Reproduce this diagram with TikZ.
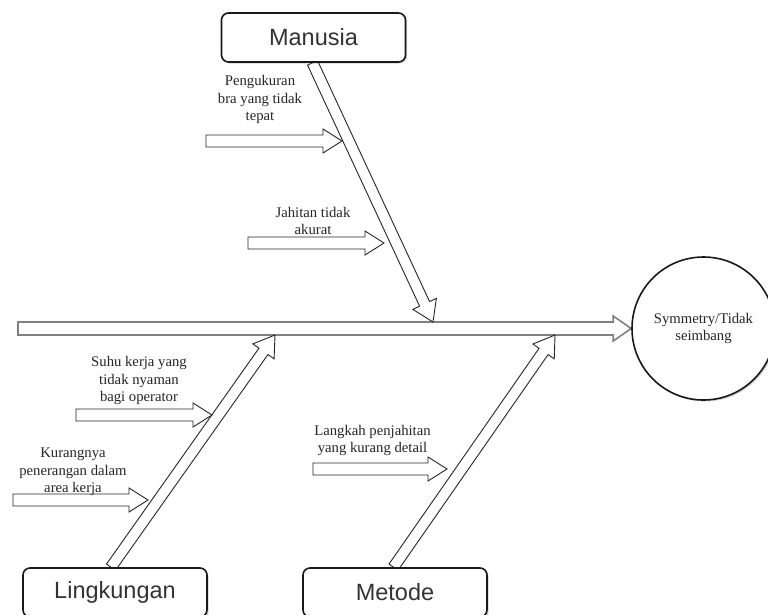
\documentclass[tikz,border=0pt]{standalone}
\usepackage{fontspec}
\setmainfont{Liberation Serif}
\newfontfamily\boxfont{Liberation Sans}
\usetikzlibrary{calc,shadows,backgrounds}

\tikzset{
  % geometry of the hollow block arrows (half shaft width, half head width, head length)
  arrshaft/.store in=\arrshaft,
  arrhead/.store in=\arrhead,
  arrlen/.store in=\arrlen,
  arrshaft=6, arrhead=12, arrlen=19,
  hollow/.style={to path={
    let \p1=(\tikztostart), \p2=(\tikztotarget),
        \p3=($(\p2)!\arrlen pt!(\p1)$) in
    ($(\p1)!\arrshaft pt!90:(\p2)$) --
    ($(\p3)!\arrshaft pt!90:(\p2)$) --
    ($(\p3)!\arrhead pt!90:(\p2)$) --
    (\p2) --
    ($(\p3)!\arrhead pt!-90:(\p2)$) --
    ($(\p3)!\arrshaft pt!-90:(\p2)$) --
    ($(\p1)!\arrshaft pt!-90:(\p2)$) -- cycle}},
  spine/.style={hollow, draw=black!50, line width=1.6pt, fill=white,
    arrshaft=6.5, arrhead=12.5, arrlen=18},
  bone/.style={hollow, draw=black!85, line width=0.9pt, fill=white,
    arrshaft=5.5, arrhead=13, arrlen=20},
  cause/.style={hollow, draw=black!85, line width=0.9pt, fill=white,
    arrshaft=6, arrhead=12, arrlen=19},
  catbox/.style={draw=black!90, line width=1.6pt, rounded corners=7pt, fill=white,
    minimum width=184pt, minimum height=49pt, inner sep=0pt,
    font=\boxfont\fontsize{23.5}{28}\selectfont, text=black!80,
    drop shadow={shadow xshift=1.5pt, shadow yshift=-1.5pt, opacity=0.3, fill=black!60}},
  effect/.style={circle, draw=black!90, line width=1.6pt, fill=white,
    minimum size=143pt, inner sep=0pt, align=center,
    font=\fontsize{14.7}{17.5}\selectfont, text=black!85,
    drop shadow={shadow xshift=1.5pt, shadow yshift=-1.5pt, opacity=0.3, fill=black!60}},
  note/.style={align=center, inner sep=0pt,
    font=\fontsize{14.7}{17.5}\selectfont, text=black!85}
}

\begin{document}
\begin{tikzpicture}[x=1pt, y=-1pt]
\useasboundingbox (0,0) rectangle (768,614);

% categories and effect
\node[catbox] (man) at (313.5,37.5) {Manusia};
\node[catbox] (ling) at (115,592.5) {Lingkungan};
\node[catbox] (met) at (395,592.5) {Metode};
\node[effect] (eff) at (703.5,328.5) {Symmetry/Tidak\\seimbang};

% cause labels
\node[note] (n1) at (260,99.5) {Pengukuran\\bra yang tidak\\tepat};
\node[note] (n2) at (313,221) {Jahitan tidak\\akurat};
\node[note] (n3) at (139,380.5) {Suhu kerja yang\\tidak nyaman\\bagi operator};
\node[note] (n4) at (73,472) {Kurangnya\\penerangan dalam\\area kerja};
\node[note] (n5) at (372.5,440.5) {Langkah penjahitan\\yang kurang detail};

% anchor points of the arrows
\coordinate (tail) at (18,328.5);
\coordinate (mTip) at (433,322);
\coordinate (lTip) at (275,335);
\coordinate (dTip) at (555,335);
\coordinate (s1) at (206,141);  \coordinate (e1) at (342,141);
\coordinate (s2) at (248,243);  \coordinate (e2) at (384,243);
\coordinate (s3) at (76,415);   \coordinate (e3) at (212,415);
\coordinate (s4) at (13,500);   \coordinate (e4) at (148,500);
\coordinate (s5) at (313,469);  \coordinate (e5) at (447,469);

\begin{scope}[on background layer]
  \fill[white] (0,0) rectangle (768,614);
  % main spine
  \draw[spine] (tail) to (eff.west);
  % category bones
  \draw[bone] ([xshift=-1pt]man.south) to (mTip);
  \draw[bone] ([xshift=-4pt]ling.north) to (lTip);
  \draw[bone] ([xshift=-1.5pt]met.north) to (dTip);
  % causes
  \draw[cause] (s1) to (e1);
  \draw[cause] (s2) to (e2);
  \draw[cause] (s3) to (e3);
  \draw[cause] (s4) to (e4);
  \draw[cause] (s5) to (e5);
\end{scope}
\end{tikzpicture}
\end{document}
